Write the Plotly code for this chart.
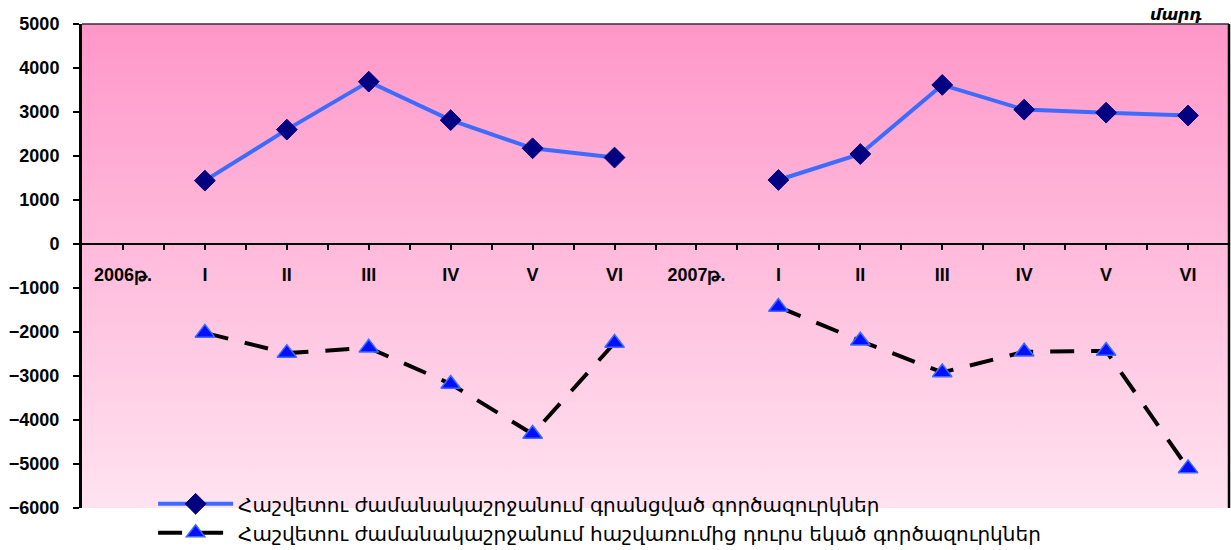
"""Registered vs. deregistered unemployed, monthly, 2006-2007."""
import plotly.graph_objects as go

categories = ["2006թ.", "I", "II", "III", "IV", "V", "VI",
              "2007թ.", "I", "II", "III", "IV", "V", "VI"]
registered = [None, 1440, 2600, 3690, 2815, 2175, 1965,
              None, 1455, 2045, 3615, 3055, 2985, 2920]
deregistered = [None, -2020, -2480, -2360, -3180, -4320, -2250,
                None, -1430, -2200, -2920, -2450, -2430, -5100]

name_reg = "Հաշվետու ժամանակաշրջանում գրանցված գործազուրկներ"
name_dereg = "Հաշվետու ժամանակաշրջանում հաշվառումից դուրս եկած գործազուրկներ"
unit = "մարդ"

y_min, y_max = -6000, 5000
x_min, x_max = -0.5, len(categories) - 0.5
xs = list(range(len(categories)))

fig = go.Figure()

# gradient plot background
fig.add_trace(go.Scatter(
    x=[x_min, x_max, x_max, x_min], y=[y_min, y_min, y_max, y_max],
    mode="none", fill="toself",
    fillgradient=dict(type="vertical",
                      colorscale=[[0, "#FFE3F0"], [1, "#FF97C9"]]),
    showlegend=False, hoverinfo="skip",
))

fig.add_trace(go.Scatter(
    x=xs, y=registered, name=name_reg,
    mode="lines+markers", connectgaps=False,
    line=dict(color="#3D6BFF", width=4),
    marker=dict(symbol="diamond", size=16, color="#000080",
                line=dict(color="#000080", width=1)),
))

fig.add_trace(go.Scatter(
    x=xs, y=deregistered, name=name_dereg,
    mode="lines+markers", connectgaps=False,
    line=dict(color="black", width=4, dash="24px,17px"),
    marker=dict(symbol="triangle-up", size=17, color="#0010FF",
                line=dict(color="#3D6BFF", width=1.5)),
))

tick_font = dict(family="Liberation Sans, Arial", size=18, color="black",
                 weight="bold")

fig.update_layout(
    width=1231, height=550,
    margin=dict(l=82, r=2, t=24, b=42, autoexpand=False),
    paper_bgcolor="white",
    plot_bgcolor="rgba(0,0,0,0)",
    xaxis=dict(
        range=[x_min, x_max], anchor="free",
        position=(0 - y_min) / (y_max - y_min),
        tickvals=xs, ticktext=categories, tickfont=tick_font,
        ticks="outside", ticklen=5, tickwidth=1.5, tickcolor="black",
        minor=dict(tickvals=[i + 0.5 for i in xs[:-1]], ticks="outside",
                   ticklen=5, tickwidth=1.5, tickcolor="black"),
        ticklabelstandoff=10,
        showline=True, linecolor="black", linewidth=1.5,
        showgrid=False, zeroline=False, fixedrange=True,
    ),
    yaxis=dict(
        range=[y_min, y_max], dtick=1000, tickfont=tick_font,
        ticks="outside", ticklen=6, tickwidth=1.5, tickcolor="black",
        ticklabelstandoff=10,
        showline=True, linecolor="black", linewidth=3,
        showgrid=False, zeroline=False, fixedrange=True,
    ),
    legend=dict(
        x=0.062, y=0.049, xanchor="left", yanchor="top",
        bgcolor="rgba(0,0,0,0)", itemwidth=75,
        font=dict(family="DejaVu Sans", size=20, color="black"),
        tracegroupgap=0,
    ),
    showlegend=True,
)

# frame: thin top, thick right
fig.add_shape(type="line", xref="paper", yref="paper", x0=0, x1=1, y0=1, y1=1,
              line=dict(color="#333333", width=1.5))
fig.add_shape(type="line", xref="paper", yref="paper", x0=1, x1=1, y0=0, y1=1,
              line=dict(color="black", width=2.5))

fig.add_annotation(
    text=unit, xref="paper", yref="paper", x=0.954, y=1.0,
    xanchor="center", yanchor="bottom", showarrow=False, yshift=-2,
    font=dict(family="DejaVu Sans", size=16, color="black",
              style="italic", weight="bold"),
)

fig.write_html("out.html", config={"displayModeBar": False},
               post_script="document.body.style.margin='0';")
